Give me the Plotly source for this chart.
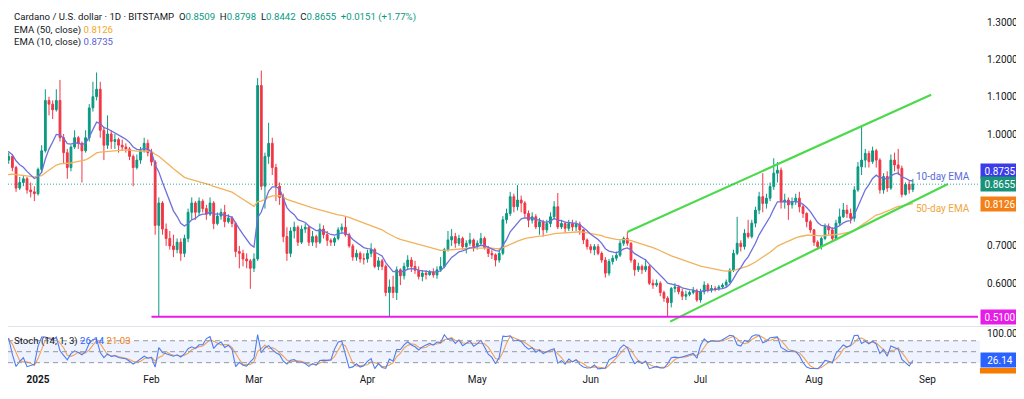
import pandas as pd
import plotly.graph_objects as go

# ---------------- data ----------------
start_date = "2024-12-23"
first_open = 0.895

dec_c = [0.93, 0.94, 0.91, 0.855, 0.87, 0.88, 0.85, 0.845, 0.84]
dec_h = [0.94, 0.95, 0.945, 0.915, 0.885, 0.89, 0.885, 0.87, 0.86]
dec_l = [0.88, 0.92, 0.90, 0.845, 0.85, 0.86, 0.84, 0.83, 0.82]

jan_c = [0.905, 0.955, 1.09, 1.08, 1.065, 1.09, 0.99, 0.95, 0.91, 0.965, 0.99, 0.975, 0.955, 0.99, 1.07, 1.10,
         1.12, 1.01, 0.97, 1.00, 0.98, 0.985, 0.97, 0.965, 0.96, 0.94, 0.91, 0.93, 0.955, 0.975, 0.95]
jan_h = [0.91, 0.97, 1.12, 1.10, 1.09, 1.12, 1.145, 1.00, 0.96, 0.97, 1.01, 0.995, 0.98, 1.01, 1.08, 1.14,
         1.165, 1.14, 1.02, 1.05, 1.01, 1.0, 0.99, 0.985, 0.975, 0.965, 0.945, 0.945, 0.965, 0.99, 0.985]
jan_l = [0.835, 0.895, 0.95, 1.05, 1.04, 1.06, 0.98, 0.92, 0.88, 0.90, 0.96, 0.96, 0.87, 0.95, 0.98, 1.06,
         1.09, 0.99, 0.93, 0.96, 0.96, 0.96, 0.95, 0.955, 0.95, 0.93, 0.86, 0.905, 0.92, 0.95, 0.94]

feb_c = [0.925, 0.755, 0.815, 0.745, 0.72, 0.70, 0.69, 0.71, 0.68, 0.72, 0.79, 0.815, 0.79, 0.82, 0.80, 0.785,
         0.815, 0.76, 0.78, 0.79, 0.765, 0.775, 0.76, 0.685, 0.68, 0.665, 0.66, 0.64]
feb_h = [0.96, 0.93, 0.83, 0.82, 0.76, 0.74, 0.73, 0.72, 0.72, 0.73, 0.80, 0.83, 0.82, 0.83, 0.825, 0.81,
         0.83, 0.82, 0.79, 0.80, 0.81, 0.785, 0.78, 0.765, 0.70, 0.69, 0.68, 0.665]
feb_l = [0.915, 0.73, 0.51, 0.73, 0.70, 0.69, 0.67, 0.68, 0.66, 0.67, 0.71, 0.77, 0.77, 0.78, 0.79, 0.77,
         0.78, 0.745, 0.755, 0.77, 0.75, 0.76, 0.75, 0.67, 0.64, 0.645, 0.64, 0.585]

mar_c = [0.665, 1.13, 0.86, 0.94, 0.975, 0.91, 0.86, 0.83, 0.725, 0.68, 0.74, 0.75, 0.71, 0.745, 0.75, 0.71,
         0.725, 0.71, 0.745, 0.73, 0.715, 0.71, 0.72, 0.743, 0.75, 0.73, 0.70, 0.67, 0.68, 0.665, 0.665]
mar_h = [0.68, 1.15, 1.17, 0.95, 1.03, 0.99, 0.92, 0.87, 0.84, 0.75, 0.75, 0.765, 0.755, 0.755, 0.76, 0.755,
         0.74, 0.73, 0.76, 0.755, 0.74, 0.72, 0.725, 0.75, 0.76, 0.778, 0.735, 0.705, 0.69, 0.685, 0.68]
mar_l = [0.63, 0.66, 0.85, 0.80, 0.92, 0.89, 0.82, 0.81, 0.71, 0.66, 0.67, 0.72, 0.70, 0.705, 0.735, 0.70,
         0.70, 0.695, 0.705, 0.72, 0.70, 0.70, 0.70, 0.715, 0.735, 0.725, 0.695, 0.66, 0.66, 0.655, 0.65]

apr_c = [0.68, 0.69, 0.645, 0.66, 0.645, 0.575, 0.59, 0.575, 0.636, 0.62, 0.645, 0.662, 0.645, 0.635, 0.618,
         0.627, 0.623, 0.63, 0.622, 0.636, 0.645, 0.69, 0.716, 0.725, 0.707, 0.72, 0.698, 0.707, 0.716, 0.698]
apr_h = [0.69, 0.707, 0.695, 0.67, 0.665, 0.65, 0.61, 0.62, 0.645, 0.64, 0.655, 0.675, 0.67, 0.66, 0.645,
         0.635, 0.635, 0.635, 0.64, 0.645, 0.67, 0.695, 0.74, 0.745, 0.735, 0.73, 0.725, 0.715, 0.735, 0.72]
apr_l = [0.655, 0.67, 0.64, 0.635, 0.635, 0.565, 0.51, 0.56, 0.555, 0.595, 0.61, 0.635, 0.63, 0.625, 0.61,
         0.605, 0.61, 0.62, 0.615, 0.612, 0.63, 0.64, 0.685, 0.70, 0.695, 0.70, 0.69, 0.68, 0.70, 0.685]

may_c = [0.707, 0.72, 0.695, 0.68, 0.676, 0.662, 0.68, 0.77, 0.787, 0.832, 0.805, 0.823, 0.815, 0.787, 0.769,
         0.778, 0.751, 0.765, 0.743, 0.76, 0.778, 0.805, 0.751, 0.76, 0.747, 0.76, 0.751, 0.758, 0.743, 0.716, 0.698]
may_h = [0.715, 0.735, 0.725, 0.70, 0.69, 0.68, 0.69, 0.78, 0.80, 0.845, 0.84, 0.863, 0.835, 0.82, 0.795,
         0.79, 0.785, 0.775, 0.77, 0.77, 0.79, 0.82, 0.842, 0.77, 0.765, 0.77, 0.77, 0.768, 0.765, 0.745, 0.72]
may_l = [0.69, 0.70, 0.69, 0.67, 0.665, 0.645, 0.655, 0.675, 0.76, 0.78, 0.79, 0.795, 0.79, 0.775, 0.75,
         0.76, 0.745, 0.73, 0.725, 0.735, 0.75, 0.77, 0.745, 0.745, 0.735, 0.74, 0.74, 0.74, 0.73, 0.705, 0.69]

jun_c = [0.69, 0.698, 0.68, 0.662, 0.627, 0.658, 0.667, 0.675, 0.707, 0.72, 0.707, 0.662, 0.636, 0.645, 0.636,
         0.645, 0.60, 0.595, 0.60, 0.575, 0.56, 0.548, 0.586, 0.59, 0.577, 0.565, 0.57, 0.575, 0.58, 0.555]
jun_h = [0.705, 0.705, 0.705, 0.685, 0.67, 0.665, 0.675, 0.685, 0.715, 0.725, 0.737, 0.71, 0.665, 0.655, 0.65,
         0.665, 0.65, 0.61, 0.61, 0.605, 0.58, 0.565, 0.59, 0.60, 0.595, 0.585, 0.58, 0.58, 0.59, 0.585]
jun_l = [0.68, 0.675, 0.675, 0.655, 0.615, 0.62, 0.65, 0.66, 0.67, 0.70, 0.70, 0.655, 0.62, 0.63, 0.625,
         0.63, 0.595, 0.585, 0.59, 0.565, 0.55, 0.51, 0.535, 0.575, 0.57, 0.555, 0.555, 0.565, 0.57, 0.55]

jul_c = [0.577, 0.595, 0.582, 0.586, 0.585, 0.59, 0.595, 0.603, 0.635, 0.68, 0.707, 0.698, 0.734, 0.725, 0.761,
         0.796, 0.832, 0.814, 0.828, 0.859, 0.895, 0.903, 0.818, 0.823, 0.81, 0.818, 0.828, 0.805, 0.787, 0.765, 0.743]
jul_h = [0.585, 0.605, 0.60, 0.595, 0.592, 0.595, 0.60, 0.61, 0.64, 0.69, 0.778, 0.715, 0.745, 0.77, 0.77,
         0.805, 0.845, 0.895, 0.84, 0.87, 0.935, 0.925, 0.91, 0.84, 0.83, 0.83, 0.84, 0.845, 0.81, 0.79, 0.77]
jul_l = [0.548, 0.57, 0.575, 0.575, 0.578, 0.58, 0.585, 0.59, 0.60, 0.63, 0.675, 0.685, 0.69, 0.72, 0.72,
         0.75, 0.785, 0.79, 0.80, 0.82, 0.85, 0.87, 0.80, 0.80, 0.77, 0.80, 0.81, 0.79, 0.775, 0.75, 0.735]

aug_c = [0.71, 0.698, 0.72, 0.752, 0.743, 0.72, 0.761, 0.778, 0.796, 0.787, 0.774, 0.85, 0.912, 0.93, 0.948,
         0.926, 0.955, 0.93, 0.85, 0.886, 0.855, 0.93, 0.917, 0.908, 0.838, 0.865, 0.8509, 0.8655]
aug_h = [0.745, 0.715, 0.725, 0.76, 0.76, 0.75, 0.77, 0.80, 0.815, 0.81, 0.80, 0.86, 0.925, 1.02, 0.96,
         0.955, 0.966, 0.96, 0.935, 0.895, 0.90, 0.945, 0.95, 0.96, 0.915, 0.87, 0.875, 0.8798]
aug_l = [0.70, 0.69, 0.69, 0.715, 0.73, 0.71, 0.715, 0.755, 0.775, 0.775, 0.76, 0.765, 0.845, 0.89, 0.91,
         0.91, 0.92, 0.91, 0.84, 0.84, 0.845, 0.85, 0.90, 0.89, 0.83, 0.835, 0.84, 0.8442]

# indicator settings and starting values
ema_fast_len, ema_slow_len = 10, 50
ema10_seed, ema50_seed = 0.955, 0.89
stoch_len, stoch_smooth = 14, 3

# drawings
support_level = 0.51
support_start = "2025-02-01"
channel_upper = [("2025-06-11", 0.737), ("2025-09-02", 1.105)]
channel_lower = [("2025-06-22 17:00", 0.497), ("2025-09-06 14:00", 0.866)]

# header texts
header_symbol = "Cardano / U.S. dollar · 1D · BITSTAMP"
last_change, last_change_pct = "+0.0151", "+1.77%"
ema50_label, ema10_label = "0.8126", "0.8735"
stoch_k_label, stoch_d_label = "26.14", "21.03"

month_ticks = ["2025-01-01", "2025-02-01", "2025-03-01", "2025-04-01", "2025-05-01",
               "2025-06-01", "2025-07-01", "2025-08-01", "2025-09-01"]
month_labels = ["<b>2025</b>", "Feb", "Mar", "Apr", "May", "Jun", "Jul", "Aug", "Sep"]
price_ticks = [0.6, 0.7, 1.0, 1.1, 1.2, 1.3]

# ---------------- build series ----------------
closes = dec_c + jan_c + feb_c + mar_c + apr_c + may_c + jun_c + jul_c + aug_c
highs = dec_h + jan_h + feb_h + mar_h + apr_h + may_h + jun_h + jul_h + aug_h
lows = dec_l + jan_l + feb_l + mar_l + apr_l + may_l + jun_l + jul_l + aug_l
opens = [first_open] + closes[:-1]
dates = pd.date_range(start_date, periods=len(closes), freq="D")


def ema(values, n, seed):
    a = 2.0 / (n + 1)
    out, e = [], seed
    for i, v in enumerate(values):
        e = seed if i == 0 else a * v + (1 - a) * e
        out.append(e)
    return out


ema10 = ema(closes, ema_fast_len, ema10_seed)
ema50 = ema(closes, ema_slow_len, ema50_seed)

df = pd.DataFrame({"h": highs, "l": lows, "c": closes})
hh = df.h.rolling(stoch_len, min_periods=1).max()
ll = df.l.rolling(stoch_len, min_periods=1).min()
stoch_k = 100 * (df.c - ll) / (hh - ll)
stoch_d = stoch_k.rolling(stoch_smooth, min_periods=1).mean()

# ---------------- figure ----------------
UP, DOWN = "#089981", "#f23645"
FONT = "Roboto, Arial, sans-serif"
TXT = "#131722"

jan1 = pd.Timestamp("2025-01-01")
x_start = jan1 - pd.Timedelta(days=8.2)
x_end = jan1 + pd.Timedelta(days=256.8)

fig = go.Figure()

fig.add_trace(go.Candlestick(
    x=dates, open=opens, high=highs, low=lows, close=closes,
    increasing=dict(line=dict(color=UP, width=1), fillcolor=UP),
    decreasing=dict(line=dict(color=DOWN, width=1), fillcolor=DOWN),
    xaxis="x", yaxis="y", showlegend=False, hoverinfo="skip"))

fig.add_trace(go.Scatter(x=dates, y=ema50, mode="lines", line=dict(color="#f2b25c", width=1.3),
                         xaxis="x", yaxis="y", showlegend=False, hoverinfo="skip"))
fig.add_trace(go.Scatter(x=dates, y=ema10, mode="lines", line=dict(color="#6e70dc", width=1.3),
                         xaxis="x", yaxis="y", showlegend=False, hoverinfo="skip"))

for ch in (channel_upper, channel_lower):
    fig.add_trace(go.Scatter(x=[p[0] for p in ch], y=[p[1] for p in ch], mode="lines",
                             line=dict(color="#4cd94c", width=2.2), xaxis="x", yaxis="y",
                             showlegend=False, hoverinfo="skip"))

fig.add_trace(go.Scatter(x=[support_start, x_end], y=[support_level, support_level], mode="lines",
                         line=dict(color="#e81ce8", width=2), xaxis="x", yaxis="y",
                         showlegend=False, hoverinfo="skip"))

fig.add_trace(go.Scatter(x=dates, y=stoch_d, mode="lines", line=dict(color="#f2a15a", width=1.1),
                         xaxis="x", yaxis="y2", showlegend=False, hoverinfo="skip"))
fig.add_trace(go.Scatter(x=dates, y=stoch_k, mode="lines", line=dict(color="#4f7cf0", width=1.1),
                         xaxis="x", yaxis="y2", showlegend=False, hoverinfo="skip"))

# the page adds an 8px body margin: the figure is 1016x391 and sits at (8, 8)
main_dom = [0.1264, 1.0]
stoch_dom = [0.0, 0.1236]

shapes = [
    dict(type="rect", xref="paper", x0=0, x1=1.002, yref="y2", y0=20, y1=80,
         fillcolor="rgba(41,98,255,0.08)", line=dict(width=0), layer="below"),
    dict(type="line", xref="paper", x0=0, x1=1.046, yref="paper", y0=0.125, y1=0.125,
         line=dict(color="#e0e3eb", width=1)),
    dict(type="line", xref="paper", x0=0, x1=1.002, yref="y", y0=closes[-1], y1=closes[-1],
         line=dict(color="rgba(8,153,129,0.8)", width=1, dash="1px,2px")),
    dict(type="rect", xref="paper", x0=1.002, x1=1.042, yref="paper", y0=-0.004, y1=0.011,
         fillcolor="#f57c00", line=dict(width=0)),
]
for lvl in (80, 50, 20):
    shapes.append(dict(type="line", xref="paper", x0=0, x1=1.002, yref="y2", y0=lvl, y1=lvl,
                       line=dict(color="#9598a1", width=1, dash="5px,4px")))

G = "#089981"
SP = "&nbsp;&nbsp;"
header = (f"{header_symbol}{SP}O<span style='color:{G}'>{opens[-1]:.4f}</span>{SP}"
          f"H<span style='color:{G}'>{highs[-1]:.4f}</span>{SP}"
          f"L<span style='color:{G}'>{lows[-1]:.4f}</span>{SP}"
          f"C<span style='color:{G}'>{closes[-1]:.4f}</span>{SP}"
          f"<span style='color:{G}'>{last_change} ({last_change_pct})</span>")


def txt(x, y, text, color=TXT, size=9.6, xref="paper", yref="paper"):
    return dict(xref=xref, yref=yref, x=x, y=y, text=text, showarrow=False, xanchor="left",
                yanchor="middle", font=dict(family=FONT, size=size, color=color))


def box(y, text, bg, yref="y", yshift=0):
    return dict(xref="paper", x=1.0, xanchor="left", xshift=2, yref=yref, y=y, yanchor="middle",
                yshift=yshift, text=text, showarrow=False, bgcolor=bg, borderpad=1,
                width=36, height=12, align="center",
                font=dict(family=FONT, size=10, color="white"))


annotations = [
    txt(0.0041, 0.9753, header),
    txt(0.0041, 0.9404, f"EMA (50, close) <span style='color:#f5a623'>{ema50_label}</span>"),
    txt(0.0041, 0.9066, f"EMA (10, close) <span style='color:#5b5fd6'>{ema10_label}</span>"),
    txt(0.0041, 0.086, f"Stoch (14, 1, 3) <span style='color:#2962ff'>{stoch_k_label}</span> "
                       f"<span style='color:#f57c00'>{stoch_d_label}</span>"),
    txt(0.934, 0.8874, "10-day EMA", color="#5b6cd8", yref="y", size=10),
    txt(0.934, 0.799, "50-day EMA", color="#f0a640", yref="y", size=10),
    box(float(ema10_label), ema10_label, "#3b3bea", yshift=10.5),
    box(closes[-1], f"{closes[-1]:.4f}", "#1a9278"),
    box(float(ema50_label), ema50_label, "#f57f17"),
    box(support_level, f"{support_level:.4f}", "#e81ce8"),
    box(float(stoch_k_label), stoch_k_label, "#2962ff", yref="y2"),
]

fig.update_layout(
    width=1016, height=391,
    margin=dict(l=0, r=46, t=0, b=27),
    paper_bgcolor="white", plot_bgcolor="white",
    font=dict(family=FONT, size=10, color=TXT),
    showlegend=False,
    xaxis=dict(type="date", range=[x_start, x_end], anchor="y2", tickvals=month_ticks,
               ticktext=month_labels, showgrid=False, zeroline=False, showline=False,
               ticks="", tickfont=dict(size=10, color=TXT), rangeslider=dict(visible=False)),
    yaxis=dict(domain=main_dom, range=[0.4853, 1.3378], side="right", anchor="x",
               tickvals=price_ticks, ticktext=[f"{v:.4f}" for v in price_ticks],
               showgrid=False, zeroline=False, ticks="", ticklabelstandoff=8,
               tickfont=dict(size=10, color=TXT)),
    yaxis2=dict(domain=stoch_dom, range=[-5.5, 117.5], side="right", anchor="x",
                tickvals=[100], ticktext=["100.00"], showgrid=False, zeroline=False,
                ticks="", ticklabelstandoff=8, tickfont=dict(size=10, color=TXT)),
    shapes=shapes,
    annotations=annotations,
)

fig.write_html("out.html")
